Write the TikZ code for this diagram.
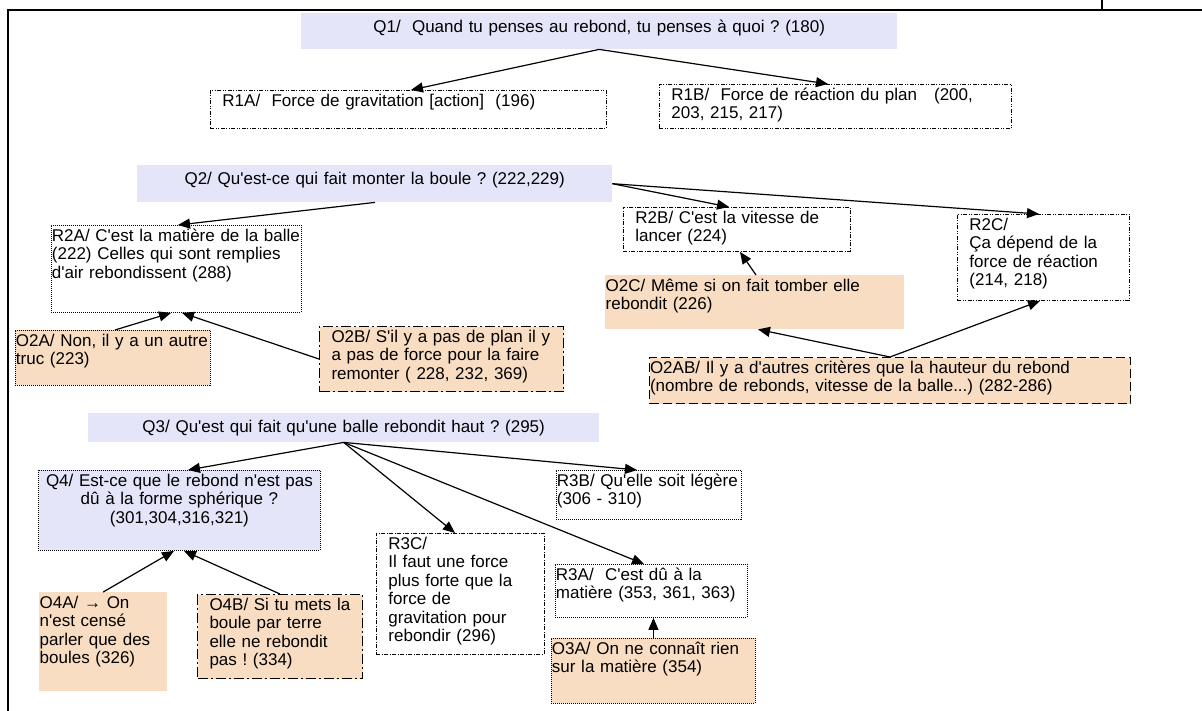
\documentclass[tikz,border=0pt]{standalone}
\usepackage{fontspec}
\setmainfont{Liberation Sans}[Ligatures=TeXOff]
\usetikzlibrary{arrows.meta}
\definecolor{qfill}{RGB}{229,229,250}
\definecolor{ofill}{RGB}{249,221,194}
\frenchspacing

\begin{document}
\begin{tikzpicture}[
  x=1pt, y=-1pt,
  font=\fontsize{17}{18.4}\selectfont,
  box/.style={anchor=north west, inner xsep=0.5pt, inner ysep=0pt, align=left, text height=16pt},
  sz/.style 2 args={text width=#1pt, text depth=#2pt},
  pad/.style={inner xsep=12pt},
  qbox/.style={box, fill=qfill, inner xsep=0pt, align=center, text height=19pt},
  obox/.style={box, fill=ofill},
  dotline/.style={draw, line width=0.9pt, dash pattern=on 1pt off 1pt},
  dashdotline/.style={draw, line width=0.9pt, dash pattern=on 4pt off 1.5pt on 1pt off 1.5pt},
  dashdotsline/.style={draw, line width=0.9pt, dash pattern=on 4pt off 1.5pt on 1pt off 1.5pt on 1pt off 1.5pt},
  longdashline/.style={draw, line width=1pt, dash pattern=on 10pt off 3pt on 2pt off 3pt},
  dashline/.style={draw, line width=1pt, dash pattern=on 9pt off 4pt},
  arr/.style={-{Triangle[length=12pt,width=10pt]}, line width=1.2pt}
]
\useasboundingbox (0,0) rectangle (1202,711);
\draw[line width=2pt] (8,711) -- (8,10) -- (1202,10);
\draw[line width=1.5pt] (1102,0) -- (1102,10);

% question 1
\node[qbox, sz={596}{17}] (q1) at (301,13) {Q1/~~Quand tu penses au rebond, tu penses à quoi ? (180)};
\node[box, pad, dashdotsline, sz={372}{22}] (r1a) at (210,90) {R1A/~~Force de gravitation [action]~~(196)};
\node[box, pad, dashdotsline, sz={328}{28}] (r1b) at (659,84) {R1B/~~Force de réaction du plan~~~(200,\\203, 215, 217)};

% question 2
\node[qbox, sz={475}{18}] (q2) at (137,165) {Q2/ Qu'est-ce qui fait monter la boule ? (222,229)};
\node[box, dotline, sz={249}{71}] (r2a) at (51,225) {R2A/ C'est la matière de la balle\\(222) Celles qui sont remplies\\d'air rebondissent (288)};
\node[box, pad, dashdotline, sz={203}{28}] (r2b) at (623,207) {R2B/ C'est la vitesse de\\lancer (224)};
\node[box, pad, dashdotsline, sz={148}{70}] (r2c) at (957,214) {R2C/\\Ça dépend de la\\force de réaction\\(214, 218)};
\node[obox, sz={298}{38}] (o2c) at (605,275) {O2C/ Même si on fait tomber elle\\rebondit (226)};
\node[obox, dotline, sz={194}{39}] (o2a) at (15,330) {O2A/ Non, il y a un autre\\truc (223)};
\node[obox, pad, longdashline, sz={220}{49}] (o2b) at (319,326) {O2B/ S'il y a pas de plan il y\\a pas de force pour la faire\\remonter ( 228, 232, 369)};
\node[obox, dashline, sz={480}{30}] (o2ab) at (649,357) {O2AB/ Il y a d'autres critères que la hauteur du rebond\\(nombre de rebonds, vitesse de la balle...) (282-286)};

% question 3
\node[qbox, sz={511}{10}] (q3) at (88,413) {Q3/ Qu'est qui fait qu'une balle rebondit haut ? (295)};
\node[qbox, dotline, text height=16pt, sz={282}{64}] (q4) at (38,470) {Q4/ Est-ce que le rebond n'est pas\\dû à la forme sphérique ?\\(301,304,316,321)};
\node[box, dotline, sz={184}{33}] (r3b) at (556,470) {R3B/ Qu'elle soit légère\\(306 - 310)};
\node[box, pad, dashdotline, sz={144}{105}] (r3c) at (376,533) {R3C/\\Il faut une force\\plus forte que la\\force de\\gravitation pour\\rebondir (296)};
\node[box, dotline, sz={191}{37}] (r3a) at (555,564) {R3A/~~C'est dû à la\\matière (353, 361, 363)};
\node[obox, dotline, sz={203}{49}] (o3a) at (551,638) {O3A/ On ne connaît rien\\sur la matière (354)};
\node[obox, sz={127}{83}] (o4a) at (39,592) {O4A/ → On\\n'est censé\\parler que des\\boules (326)};
\node[obox, pad, longdashline, sz={141}{68}] (o4b) at (197,594) {O4B/ Si tu mets la\\boule par terre\\elle ne rebondit\\pas ! (334)};

\draw[arr] (q1.south) -- ([xshift=201pt]r1a.north west);
\draw[arr] (q1.south) -- ([xshift=169pt]r1b.north west);
\draw[arr] ([xshift=238pt]q2.south west) -- ([xshift=127pt]r2a.north west);
\draw[arr] (q2.east) -- ([xshift=106pt]r2b.north west);
\draw[arr] (q2.east) -- ([xshift=82pt]r2c.north west);
\draw[arr] ([xshift=100pt]o2a.north west) -- ([xshift=120pt]r2a.south west);
\draw[arr] (o2b.west) -- ([xshift=131pt]r2a.south west);
\draw[arr] ([xshift=151pt]o2c.north west) -- ([xshift=117pt]r2b.south west);
\draw[arr] (o2ab.north) -- ([xshift=153pt]o2c.south west);
\draw[arr] (o2ab.north) -- ([xshift=83pt]r2c.south west);
\draw[arr] (q3.south) -- ([xshift=150pt]q4.north west);
\draw[arr] (q3.south) -- ([xshift=79pt]r3c.north west);
\draw[arr] (q3.south) -- ([xshift=89pt]r3a.north west);
\draw[arr] (q3.south) -- ([xshift=81pt]r3b.north west);
\draw[arr] (o4a.north) -- ([xshift=136pt]q4.south west);
\draw[arr] (o4b.north) -- ([xshift=146pt]q4.south west);
\draw[arr] (o3a.north) -- (o3a.north |- r3a.south);
\end{tikzpicture}
\end{document}
